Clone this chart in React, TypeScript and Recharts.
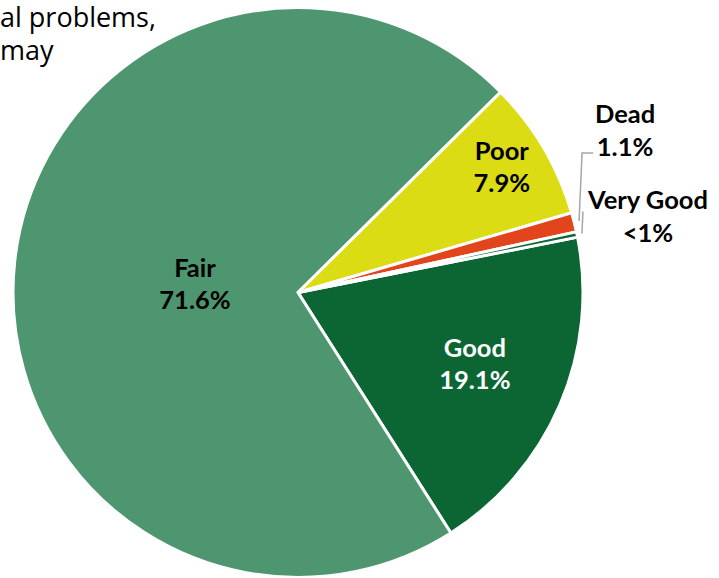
import { Cell, Pie, PieChart } from "recharts";

const categories = ["Good", "Fair", "Poor", "Dead", "Very Good"];
const shares = [19.1, 71.6, 7.9, 1.1, 0.3];
const shareLabels = ["19.1%", "71.6%", "7.9%", "1.1%", "<1%"];
const titleLines = ["al problems,", "may"];

const colors = ["#0b6634", "#4e966f", "#dcdc14", "#e2441c", "#0b6634"];
const textColors = ["#ffffff", "#000000", "#000000", "#000000", "#000000"];
// label placement inside slices: share of radius, and nudge off the mid angle
const labelRadius = [0.668, 0.363, 0.842];
const labelNudge = [1.5, 1.2, 1.4];

const chartData = categories.map((name, i) => ({ name, value: shares[i] }));

const RADIAN = Math.PI / 180;
const FONT = "Lato, 'Open Sans', sans-serif";
const FS = 25.5;

const renderLabel = (props: any) => {
    const { cx, cy, midAngle, outerRadius, index } = props;
    const name = categories[index];
    const pct = shareLabels[index];

    if (index < 3) {
        const a = -(midAngle + labelNudge[index]) * RADIAN;
        const r = outerRadius * labelRadius[index];
        const x = cx + r * Math.cos(a);
        const y = cy + r * Math.sin(a);
        return (
            <text
                x={x}
                y={y}
                textAnchor="middle"
                fill={textColors[index]}
                fontFamily={FONT}
                fontWeight="bold"
                fontSize={FS}
            >
                <tspan x={x} y={y - 16} dominantBaseline="central">{name}</tspan>
                <tspan x={x} y={y + 16} dominantBaseline="central">{pct}</tspan>
            </text>
        );
    }

    // outside labels with leader lines
    const cos = Math.cos(-midAngle * RADIAN);
    const sin = Math.sin(-midAngle * RADIAN);
    const sx = cx + (outerRadius + 5) * cos;
    const sy = cy + (outerRadius + 5) * sin;
    let path = "";
    let tx = 0;
    let ty = 0;
    if (index === 3) {
        const ey = sy - 68;
        path = `M${sx},${sy}L${sx + 3},${ey}L${sx + 14},${ey}`;
        tx = sx + 46;
        ty = ey - 40;
    } else {
        path = `M${sx},${sy}L${sx + 1},${sy - 22}`;
        tx = sx + 66;
        ty = sy - 34;
    }
    return (
        <g>
            <path d={path} stroke="#a6a6a6" strokeWidth={1.5} fill="none" />
            <text
                x={tx}
                y={ty}
                textAnchor="middle"
                fill={textColors[index]}
                fontFamily={FONT}
                fontWeight="bold"
                fontSize={FS}
            >
                <tspan x={tx} y={ty} dominantBaseline="central">{name}</tspan>
                <tspan x={tx} y={ty + 33} dominantBaseline="central">{pct}</tspan>
            </text>
        </g>
    );
};

const App = () => {
    return (
        <div style={{ position: "absolute", left: 0, top: 0, width: 719, height: 578, background: "#fff" }}>
            <PieChart width={719} height={578} margin={{ top: 0, right: 0, bottom: 0, left: 0 }}>
                <Pie
                    data={chartData}
                    dataKey="value"
                    nameKey="name"
                    cx={298}
                    cy={292.5}
                    outerRadius={285}
                    startAngle={11.2}
                    endAngle={-348.8}
                    stroke="#ffffff"
                    strokeWidth={3}
                    label={renderLabel}
                    labelLine={false}
                    isAnimationActive={false}
                >
                    {chartData.map((d, i) => (
                        <Cell key={d.name} fill={colors[i]} />
                    ))}
                </Pie>
            </PieChart>
            <div
                style={{
                    position: "absolute",
                    left: 0,
                    top: 0,
                    fontFamily: "'Open Sans', sans-serif",
                    fontSize: 27,
                    lineHeight: "33px",
                    color: "#000",
                    pointerEvents: "none",
                    whiteSpace: "nowrap",
                }}
            >
                {titleLines.map((t) => (
                    <div key={t}>{t}</div>
                ))}
            </div>
        </div>
    );
};

export default App;
